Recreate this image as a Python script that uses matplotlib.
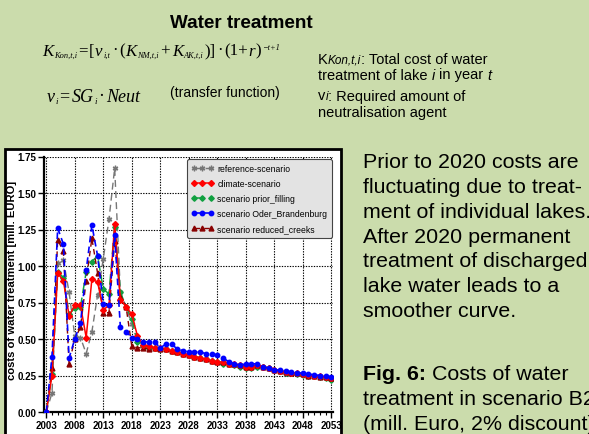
import matplotlib
matplotlib.use('Agg')
import matplotlib.pyplot as plt
from matplotlib.patches import Rectangle
from matplotlib.ticker import MultipleLocator, FormatStrFormatter

plt.rcParams['font.family'] = ['Liberation Sans', 'DejaVu Sans']

# ---------------- data ----------------
years = list(range(2003, 2054))
reference = [0.00, 0.13, 1.02, 1.04, 0.82, 0.52, 0.51, 0.40, 0.55, 0.80,
             1.05, 1.32, 1.67, 0.82, 0.72, 0.60, 0.49, 0.46, 0.45, 0.44,
             0.43, 0.43, 0.42, 0.41, 0.40, 0.39, 0.38, 0.37, 0.36, 0.35,
             0.34, 0.34, 0.33, 0.32, 0.32, 0.31, 0.31, 0.31, 0.31, 0.30,
             0.29, 0.28, 0.27, 0.265, 0.26, 0.26, 0.25, 0.245, 0.24, 0.24,
             0.235]
climate = [0.00, 0.25, 0.95, 0.90, 0.66, 0.73, 0.73, 0.51, 0.91, 0.89,
           0.70, 0.73, 1.29, 0.77, 0.72, 0.67, 0.52, 0.46, 0.45, 0.44,
           0.44, 0.43, 0.42, 0.41, 0.40, 0.39, 0.38, 0.37, 0.36, 0.35,
           0.34, 0.34, 0.33, 0.33, 0.32, 0.31, 0.31, 0.32, 0.31, 0.30,
           0.29, 0.28, 0.275, 0.27, 0.265, 0.26, 0.255, 0.25, 0.245, 0.24,
           0.235]
prior_filling = [0.00, 0.26, 0.96, 0.92, 0.67, 0.71, 0.72, 0.96, 1.03, 1.07,
                 0.84, 0.81, 1.27, 0.82, 0.72, 0.64, 0.48, 0.45, 0.44, 0.44,
                 0.43, 0.43, 0.42, 0.41, 0.40, 0.39, 0.38, 0.37, 0.36, 0.35,
                 0.34, 0.33, 0.33, 0.32, 0.31, 0.30, 0.30, 0.31, 0.31, 0.30,
                 0.29, 0.28, 0.27, 0.265, 0.26, 0.255, 0.25, 0.245, 0.24, 0.235,
                 0.22]
oder_brandenburg = [0.00, 0.38, 1.26, 1.15, 0.37, 0.50, 0.61, 0.97, 1.28, 1.07,
                    0.74, 0.73, 1.21, 0.58, 0.55, 0.51, 0.50, 0.48, 0.48, 0.48,
                    0.44, 0.465, 0.465, 0.43, 0.42, 0.41, 0.41, 0.41, 0.40, 0.40,
                    0.39, 0.37, 0.345, 0.33, 0.32, 0.33, 0.33, 0.33, 0.31, 0.30,
                    0.29, 0.285, 0.28, 0.275, 0.27, 0.265, 0.26, 0.255, 0.25, 0.25,
                    0.24]
reduced_creeks = [0.00, 0.30, 1.18, 1.10, 0.33, 0.50, 0.58, 0.90, 1.19, 0.95,
                  0.68, 0.68, 1.17, 0.79, 0.72, 0.45, 0.44, 0.44, 0.43, 0.44,
                  0.43, 0.43, 0.42, 0.41, 0.40, 0.39, 0.38, 0.37, 0.36, 0.35,
                  0.34, 0.34, 0.33, 0.33, 0.32, 0.31, 0.31, 0.32, 0.31, 0.30,
                  0.29, 0.28, 0.275, 0.27, 0.265, 0.26, 0.25, 0.245, 0.24, 0.24,
                  0.235]
series_labels = ['reference-scenario', 'climate-scenario', 'scenario prior_filling',
                 'scenario Oder_Brandenburg', 'scenario reduced_creeks']
x_ticks = [2003, 2008, 2013, 2018, 2023, 2028, 2033, 2038, 2043, 2048, 2053]

# ---------------- figure ----------------
W, H = 589, 435
BG = '#cbdcac'
fig = plt.figure(figsize=(W / 100, H / 100), dpi=100, facecolor=BG)
renderer = fig.canvas.get_renderer()


def fx(x):
    return x / W


def fy(y):
    return 1 - y / H


def text_w(s, size, **kw):
    t = fig.text(0, 0, s, fontsize=size, **kw)
    w = t.get_window_extent(renderer).width
    t.remove()
    return w


def space_w(size, **kw):
    return text_w('a a', size, **kw) - text_w('aa', size, **kw)


def rich(x, y, segs, width=None, ha='left'):
    """segs: (text, size, dy_px, gap_px_or_'sp', fontkw)"""
    def layout(scale, draw):
        cur = x
        arts = []
        for s, size, dy, gap, kw in segs:
            sz = size * scale
            if gap == 'sp':
                cur += space_w(sz, **kw)
            else:
                cur += gap * scale
            if draw:
                t = fig.text(fx(cur), fy(y - dy * scale), s, fontsize=sz,
                             va='baseline', **kw)
                arts.append(t)
            cur += text_w(s, sz, **kw)
        return cur - x, arts
    scale = 1.0
    if width is not None:
        w, _ = layout(1.0, False)
        scale = width / w
    w, arts = layout(scale, True)
    if ha == 'center':
        for t in arts:
            px, py = t.get_position()
            t.set_position((px - w / 2 / W, py))
    return arts


def place(x, y, s, size=10, width=None, **kw):
    kw.setdefault('va', 'baseline')
    t = fig.text(fx(x), fy(y), s, fontsize=size, **kw)
    if width is not None:
        w = t.get_window_extent(renderer).width
        t.set_fontsize(size * width / w)
    return t


# white chart box
fig.add_artist(Rectangle((fx(5), -0.02), fx(341) - fx(5), fy(150) + 0.02,
                         transform=fig.transFigure, facecolor='white',
                         edgecolor='black', lw=2, zorder=-1))

# title
place(241.5, 27.5, 'Water treatment', size=14, width=143, ha='center', weight='bold')

# formulas
SER = dict(family='Liberation Serif')
ITS = dict(family='Liberation Serif', style='italic')
B, S = 13, 6.5
f1 = [('K', B, 0, 0, ITS), ('Kon,t,i', S, -3, 0.5, ITS),
      ('=', B, 0, 1.5, SER), ('[', B, 0, 1.5, SER),
      ('v', B, 0, 0.5, ITS), ('i,t', S, -3, 0.5, ITS),
      ('\u00b7', B, 0, 2, SER), ('(', B, 0, 2, SER),
      ('K', B, 0, 0.5, ITS), ('NM,t,i', S, -3, 0.5, ITS),
      ('+', B, 0, 2, SER), ('K', B, 0, 2, ITS), ('AK,t,i', S, -3, 0.5, ITS),
      (')]', B, 0, 0.5, SER), ('\u00b7', B, 0, 2, SER),
      ('(1+', B, 0, 2, SER), ('r', B, 0, 0.5, ITS), (')', B, 0, 0.5, SER),
      ('\u2212t+1', S, 6, 0.5, ITS)]
rich(42, 55.5, f1, width=236)
f2 = [('v', B, 0, 0, ITS), ('i', S, -3, 0.5, ITS), ('=', B, 0, 2, SER),
      ('SG', B, 0, 2, ITS), ('i', S, -3, 0.5, ITS), ('\u00b7', B, 0, 2, SER),
      ('Neut', B, 0, 2, ITS)]
rich(46.5, 101.5, f2, width=94)
place(170, 97.5, '(transfer function)', size=10, width=110)

# explanations
N = 10.5
IT = dict(style='italic')
rich(318, 63.5, [('K', N, 0, 0, {}), ('Kon,t,i', 8.5, 0, 0.3, IT),
                 (': Total cost of water', N, 0, 0, {})])
rich(318, 79.5, [('treatment of lake', N, 0, 0, {}), ('i', N, 0, 'sp', IT),
                 ('in year', N, 0, 'sp', {}), ('t', N, 0, 'sp', IT)])
rich(318, 100.5, [('v', N, 0, 0, {}), ('i', 8.5, 0, 0.3, IT),
                  (': Required amount of', N, 0, 0, {})])
place(318, 117, 'neutralisation agent', size=N)

para = ['Prior to 2020 costs are', 'fluctuating due to treat-',
        'ment of individual lakes.', 'After 2020 permanent',
        'treatment of discharged', 'lake water leads to a', 'smoother curve.']
t0 = place(363, 168.5, para[0], size=15, width=215)
fs = t0.get_fontsize()
for i, line in enumerate(para[1:], start=1):
    place(363, 168.5 + 24.7 * i, line, size=fs)
rich(363, 380.5, [('Fig. 6:', fs, 0, 0, dict(weight='bold')),
                  ('Costs of water', fs, 0, 'sp', {})])
place(363, 405.5, 'treatment in scenario B2', size=fs)
place(363, 430, '(mill. Euro, 2% discount)', size=fs)

# y label (fit its length to the reference)
yl = fig.text(fx(12), fy(280), 'costs of water treatment [mill. EURO]', fontsize=8,
              rotation=90, ha='center', va='center', weight='bold')
yl.set_fontsize(8 * 201 / yl.get_window_extent(renderer).height)

# ---------------- axes ----------------
ax = fig.add_axes([fx(44), fy(413), fx(333) - fx(44), fy(157.5) - fy(413)])
ax.set_facecolor('white')

styles = [
    dict(color='#777777', ls=(0, (5, 3)), lw=1.0, marker=(6, 2, 0), ms=4.0, mew=1.0, zorder=3),
    dict(color='#ff0000', ls='-', lw=1.1, marker='D', ms=3.0, zorder=4),
    dict(color='#10a040', ls=(0, (7, 3)), lw=1.1, marker='D', ms=2.8, zorder=3),
    dict(color='#0000ff', ls=(0, (4, 2.5)), lw=1.2, marker='o', ms=3.2, zorder=5),
    dict(color='#880000', ls=(0, (4, 3)), lw=1.0, marker='^', ms=3.5, zorder=3),
]
for vals, lab, st in zip([reference, climate, prior_filling, oder_brandenburg, reduced_creeks],
                         series_labels, styles):
    ax.plot(years, vals, label=lab, **st)

ax.set_xlim(2002.6, 2053.3)
ax.set_ylim(0, 1.75)
ax.set_xticks(x_ticks)
ax.xaxis.set_minor_locator(MultipleLocator(1))
ax.yaxis.set_major_locator(MultipleLocator(0.25))
ax.yaxis.set_major_formatter(FormatStrFormatter('%.2f'))
ax.grid(True, which='major', color='black', ls=(0, (1.2, 1.2)), lw=0.8)
for sp in ['top', 'right']:
    ax.spines[sp].set_visible(False)
for sp in ['left', 'bottom']:
    ax.spines[sp].set_linewidth(1.6)
ax.tick_params(axis='both', which='major', labelsize=7, length=4, width=1, pad=1.5)
ax.tick_params(axis='x', which='minor', length=2.2, width=0.8)
for lbl in ax.get_xticklabels() + ax.get_yticklabels():
    lbl.set_fontweight('bold')

leg = ax.legend(loc='upper right', bbox_to_anchor=(0.997, 0.99), fontsize=6.2,
                numpoints=3, handlelength=2.5, handletextpad=0.5, labelspacing=0.7,
                borderpad=0.55, borderaxespad=0, fancybox=True, framealpha=1,
                facecolor='#e3e3e3', edgecolor='#444444')
leg.get_frame().set_linewidth(0.8)

fig.savefig('out.png', dpi=100, facecolor=BG)
